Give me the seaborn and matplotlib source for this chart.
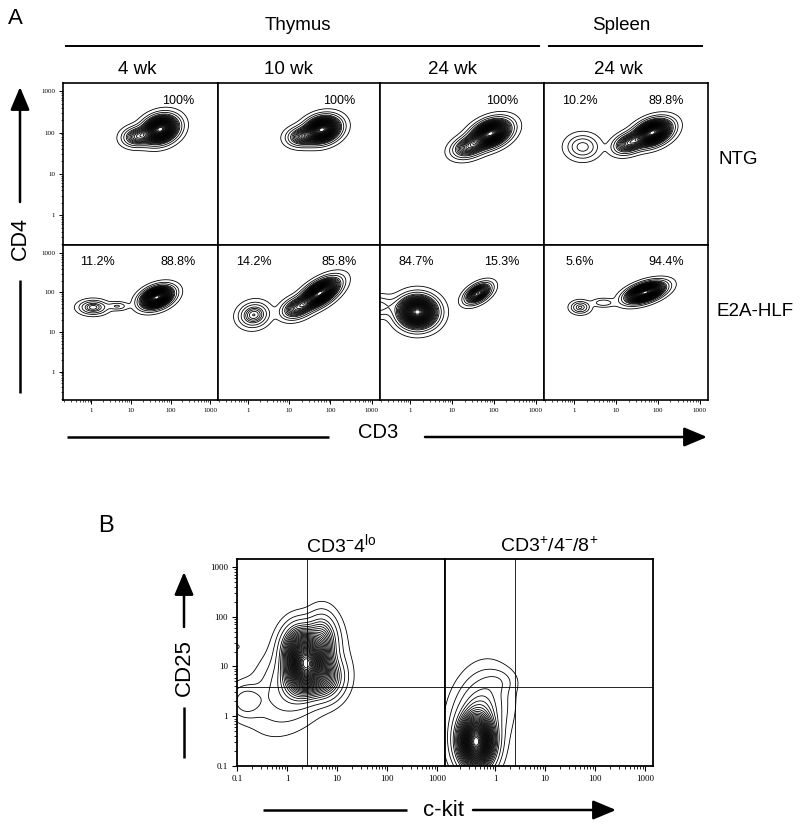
import numpy as np
import pandas as pd
import matplotlib
matplotlib.use("Agg")
import matplotlib.pyplot as plt
import seaborn as sns
from matplotlib.ticker import FixedLocator, FixedFormatter, NullFormatter

# ---------------- data ----------------
# panel A: columns / rows
col_titles = ["4 wk", "10 wk", "24 wk", "24 wk"]
row_labels = ["NTG", "E2A-HLF"]
pct_left = [["", "", "", "10.2%"], ["11.2%", "14.2%", "84.7%", "5.6%"]]
pct_right = [["100%", "100%", "100%", "89.8%"], ["88.8%", "85.8%", "15.3%", "94.4%"]]
a_ticks = [1, 10, 100, 1000]
a_ticklabels = ["1", "10", "100", "1000"]

# panel B
b_titles = [r"CD3$^{-}$4$^{\mathrm{lo}}$", r"CD3$^{+}$/4$^{-}$/8$^{+}$"]
b_ticks = [0.1, 1, 10, 100, 1000]
b_ticklabels = ["0.1", "1", "10", "100", "1000"]
b_quad_ckit = 2.5
b_quad_cd25 = 3.9

# cell populations per panel (0-3 NTG row, 4-7 E2A-HLF row, 8-9 panel B)
pop_panel = [0, 0, 1, 1, 2, 2, 3, 3, 3, 4, 4, 4, 5, 5, 5, 6, 6, 6, 7, 7, 7,
             8, 8, 8, 8, 8, 8, 8, 9, 9, 9]
pop_x = [55, 14, 63, 20, 84, 25, 1.6, 75, 20, 1.1, 4.5, 45, 1.4, 55, 15, 1.5, 0.12, 42,
         1.4, 5, 50, 2.5, 1.8, 5.5, 1.5, 0.15, 0.1, 5, 0.42, 0.5, 1.2]
pop_y = [120, 80, 118, 80, 95, 45, 45, 100, 55, 42, 45, 75, 27, 95, 40, 32, 45, 95,
         42, 55, 100, 10, 22, 6, 5, 2, 25, 35, 0.3, 1.2, 5]
pop_sdx = [0.24, 0.2, 0.23, 0.20, 0.25, 0.22, 0.22, 0.24, 0.20, 0.20, 0.15, 0.22,
           0.20, 0.25, 0.20, 0.25, 0.35, 0.17, 0.13, 0.15, 0.25,
           0.22, 0.20, 0.22, 0.45, 0.20, 0.05, 0.18, 0.20, 0.30, 0.20]
pop_sdy = [0.18, 0.13, 0.17, 0.13, 0.18, 0.15, 0.17, 0.17, 0.14, 0.10, 0.06, 0.15,
           0.17, 0.20, 0.15, 0.22, 0.16, 0.14, 0.09, 0.06, 0.14,
           0.30, 0.28, 0.25, 0.50, 0.20, 0.05, 0.30, 0.30, 0.45, 0.15]
pop_rho = [0.2, 0.1, 0.2, 0.1, 0.35, 0.3, 0.0, 0.35, 0.3, 0.0, 0.0, 0.35,
           0.1, 0.6, 0.3, 0.0, 0.0, 0.5, 0.0, 0.0, 0.5,
           0.2, 0.0, 0.0, 0.4, 0.0, 0.0, 0.0, 0.0, 0.2, 0.0]
pop_w = [0.85, 0.15, 0.84, 0.16, 0.8, 0.2, 0.102, 0.72, 0.18, 0.112, 0.02, 0.868,
         0.142, 0.7, 0.158, 0.76, 0.087, 0.153, 0.056, 0.02, 0.924,
         0.4, 0.2, 0.12, 0.17, 0.025, 0.00025, 0.09, 0.75, 0.24, 0.01]

pops = pd.DataFrame(dict(panel=pop_panel, x=pop_x, y=pop_y, sdx=pop_sdx,
                         sdy=pop_sdy, rho=pop_rho, w=pop_w))

# ---------------- style ----------------
sns.set_theme(style="ticks")
plt.rcParams["font.family"] = ["Liberation Sans", "DejaVu Sans"]
plt.rcParams["mathtext.fontset"] = "custom"
plt.rcParams["mathtext.rm"] = "Liberation Sans"
plt.rcParams["mathtext.it"] = "Liberation Sans:italic"
plt.rcParams["mathtext.bf"] = "Liberation Sans:bold"
for k in ["text.color", "axes.labelcolor", "xtick.color", "ytick.color", "axes.edgecolor"]:
    plt.rcParams[k] = "black"

W, H = 800, 826
fig = plt.figure(figsize=(W / 100, H / 100), dpi=100)
fig.patch.set_facecolor("white")


def px_axes(x0, y0, x1, y1):
    return fig.add_axes([x0 / W, 1 - y1 / H, (x1 - x0) / W, (y1 - y0) / H])


def mixture(panel, LX, LY):
    Z = np.zeros_like(LX)
    for _, p in pops[pops.panel == panel].iterrows():
        dx = (LX - np.log10(p.x)) / p.sdx
        dy = (LY - np.log10(p.y)) / p.sdy
        r = p.rho
        q = (dx * dx - 2 * r * dx * dy + dy * dy) / (1 - r * r)
        Z += p.w / (2 * np.pi * p.sdx * p.sdy * np.sqrt(1 - r * r)) * np.exp(-q / 2)
    return Z


g = np.linspace(-1.6, 3.6, 480)
LX, LY = np.meshgrid(g, g)
fracs_a = np.concatenate([[0.012, 0.04, 0.075], np.linspace(0.12, 0.97, 30)])
fracs_b = np.concatenate([[0.008, 0.025, 0.05], np.linspace(0.085, 0.97, 34)])


def draw_contours(ax, panel, fracs, lw):
    Z = mixture(panel, LX, LY)
    ax.contour(10 ** LX, 10 ** LY, Z, levels=Z.max() * fracs,
               colors="black", linewidths=lw)


minor_vals = [m * 10.0 ** e for e in range(-2, 4) for m in range(2, 10)]
serif = ["Liberation Serif", "DejaVu Serif"]

# ---------------- panel A ----------------
col_edges = [63, 218, 380, 544, 708]
row_edges = [83, 245, 400]
alim = (10 ** -0.72, 10 ** 3.2)
for r in range(2):
    for c in range(4):
        ax = px_axes(col_edges[c], row_edges[r], col_edges[c + 1], row_edges[r + 1])
        ax.set_xscale("log")
        ax.set_yscale("log")
        draw_contours(ax, r * 4 + c, fracs_a, 0.6)
        ax.set_xlim(*alim)
        ax.set_ylim(*alim)
        for s in ax.spines.values():
            s.set_linewidth(1.2)
            s.set_color("black")
            s.set_visible(True)
        ax.xaxis.set_major_locator(FixedLocator(a_ticks))
        ax.yaxis.set_major_locator(FixedLocator(a_ticks))
        ax.xaxis.set_minor_locator(FixedLocator(minor_vals))
        ax.yaxis.set_minor_locator(FixedLocator(minor_vals))
        ax.xaxis.set_minor_formatter(NullFormatter())
        ax.yaxis.set_minor_formatter(NullFormatter())
        ax.tick_params(which="major", direction="out", length=3, width=0.7,
                       color="black", labelsize=5, pad=2.5, labelcolor="black")
        ax.tick_params(which="minor", direction="out", length=1.6, width=0.5,
                       color="black")
        if r == 1:
            ax.xaxis.set_major_formatter(FixedFormatter(a_ticklabels))
            for t in ax.get_xticklabels():
                t.set_fontfamily(serif)
        else:
            ax.tick_params(axis="x", which="both", length=0, labelbottom=False)
        if c == 0:
            ax.yaxis.set_major_formatter(FixedFormatter(a_ticklabels))
            for t in ax.get_yticklabels():
                t.set_fontfamily(serif)
        else:
            ax.tick_params(axis="y", which="both", length=0, labelleft=False)
        ax.text(0.22, 0.89, pct_left[r][c], transform=ax.transAxes,
                ha="center", va="center", fontsize=9)
        ax.text(0.745, 0.89, pct_right[r][c], transform=ax.transAxes,
                ha="center", va="center", fontsize=9)

# ---------------- panel B ----------------
b_edges = [237, 445, 653]
blim = (0.1, 10 ** 3.16)
for c in range(2):
    ax = px_axes(b_edges[c], 559, b_edges[c + 1], 766)
    ax.set_xscale("log")
    ax.set_yscale("log")
    draw_contours(ax, 8 + c, fracs_b, 0.6)
    ax.axvline(b_quad_ckit, color="black", lw=0.6)
    ax.axhline(b_quad_cd25, color="black", lw=0.6)
    ax.set_xlim(*blim)
    ax.set_ylim(*blim)
    for s in ax.spines.values():
        s.set_linewidth(1.3)
        s.set_color("black")
        s.set_visible(True)
    ax.xaxis.set_major_locator(FixedLocator(b_ticks if c == 0 else b_ticks[1:]))
    ax.xaxis.set_major_formatter(FixedFormatter(b_ticklabels if c == 0 else b_ticklabels[1:]))
    ax.yaxis.set_major_locator(FixedLocator(b_ticks))
    ax.yaxis.set_major_formatter(FixedFormatter(b_ticklabels))
    ax.xaxis.set_minor_locator(FixedLocator(minor_vals))
    ax.yaxis.set_minor_locator(FixedLocator(minor_vals))
    ax.xaxis.set_minor_formatter(NullFormatter())
    ax.yaxis.set_minor_formatter(NullFormatter())
    ax.tick_params(which="major", direction="out", length=3.5, width=0.8,
                   color="black", labelsize=6.5, pad=3, labelcolor="black")
    ax.tick_params(which="minor", direction="out", length=2, width=0.6, color="black")
    for t in ax.get_xticklabels() + ax.get_yticklabels():
        t.set_fontfamily(serif)
    if c == 1:
        ax.tick_params(axis="y", which="both", length=0, labelleft=False)
    ax.set_title(b_titles[c], fontsize=14, pad=5, color="black")

# ---------------- annotations (overlay) ----------------
ov = fig.add_axes([0, 0, 1, 1])
ov.set_xlim(0, W)
ov.set_ylim(H, 0)
ov.axis("off")
ov.patch.set_alpha(0)

arrow = dict(arrowstyle="-|>,head_length=1.0,head_width=0.42", lw=1.8,
             color="black", mutation_scale=14, shrinkA=0, shrinkB=0)

ov.text(15, 18, "A", fontsize=16, ha="center", va="center")
ov.text(298, 26, "Thymus", fontsize=13.5, ha="center", va="center")
ov.text(621, 26, "Spleen", fontsize=13.5, ha="center", va="center")
ov.plot([65, 540], [46, 46], color="black", lw=1.4, solid_capstyle="butt")
ov.plot([548, 703], [46, 46], color="black", lw=1.4, solid_capstyle="butt")
for xc, t in zip([137, 289, 452, 618], col_titles):
    ov.text(xc, 70, t, fontsize=13.5, ha="center", va="center")
ov.text(718, 160, row_labels[0], fontsize=13.5, ha="left", va="center")
ov.text(717, 312, row_labels[1], fontsize=13.5, ha="left", va="center")

ov.text(20, 238, "CD4", fontsize=15.5, rotation=90, ha="center", va="center")
ov.plot([20, 20], [280, 393], color="black", lw=1.8, solid_capstyle="butt")
ov.annotate("", xy=(20, 87), xytext=(20, 202), arrowprops=arrow)

ov.text(378, 433, "CD3", fontsize=14.5, ha="center", va="center")
ov.plot([67, 329], [437, 437], color="black", lw=1.8, solid_capstyle="butt")
ov.annotate("", xy=(707, 437), xytext=(425, 437), arrowprops=arrow)

ov.text(106, 526, "B", fontsize=17, ha="center", va="center")
ov.text(184, 668, "CD25", fontsize=16, rotation=90, ha="center", va="center")
ov.plot([184, 184], [707, 758], color="black", lw=1.8, solid_capstyle="butt")
ov.annotate("", xy=(184, 572), xytext=(184, 627), arrowprops=arrow)

ov.text(443, 810, "c-kit", fontsize=16, ha="center", va="center")
ov.plot([263, 407], [810, 810], color="black", lw=1.8, solid_capstyle="butt")
ov.annotate("", xy=(616, 810), xytext=(473, 810), arrowprops=arrow)

fig.savefig("out.png", dpi=100, facecolor="white")
